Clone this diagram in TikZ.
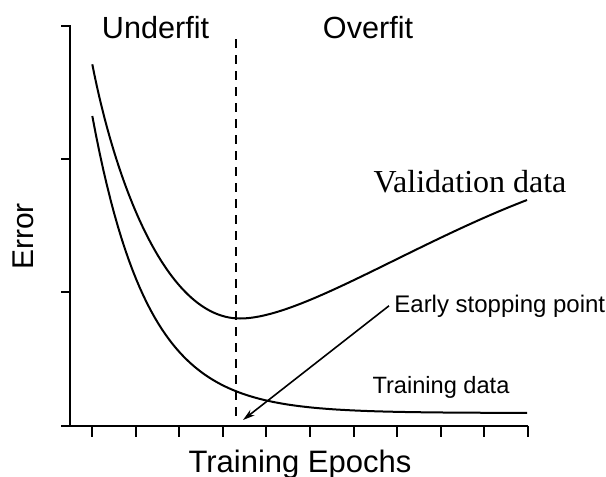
\documentclass[tikz,border=0pt]{standalone}
\usepackage{fontspec}
\setmainfont{Liberation Sans}
\newfontfamily\valfont{Liberation Serif}
\usetikzlibrary{arrows.meta}
\tikzstyle{lbl}=[inner sep=0pt,anchor=base]
\tikzstyle{curve}=[line width=1pt,line join=round]

\begin{document}
\begin{tikzpicture}[x=0.5pt,y=-0.5pt]
    \useasboundingbox (0,0) rectangle (606,477);
    % axes and ticks
    \draw[line width=1pt] (61,25.7) -- (70,25.7) -- (70,425.7);
    \draw[line width=1pt] (61,425.7) -- (528,425.7);
    \foreach \y in {159,292.3}
    \draw[line width=1pt] (61,\y) -- (70,\y);
    \foreach \i in {0,...,10}
    \draw[line width=1pt] (92+43.6*\i,425.7) -- ++(0,11.3);

    \node[lbl,font=\fontsize{15.3}{18}\selectfont] (under) at (155.5,38.5) {Underfit};
    \node[lbl,font=\fontsize{15.3}{18}\selectfont] (over) at (368,38.5) {Overfit};
    \node[lbl,font=\fontsize{15.5}{18}\selectfont] (xlab) at (300,472) {Training Epochs};
    \node[lbl,font=\fontsize{15}{18}\selectfont,rotate=90] (ylab) at (33.5,236.5) {Error};

    % stopping line
    \draw[line width=1pt,dash pattern=on 4.5pt off 3.5pt] (236,39) -- (236,420);

    % curves
    \draw[curve] (92.3,64.3) .. controls (115,180) and (165,318.5) .. (240,318.5)
        .. controls (300,318.5) and (410,245) .. (527,200);
    \draw[curve] plot[domain=92.3:527,samples=120] (\x,{413-297*exp(-(\x-92.3)/55)});

    \node[lbl,font=\fontsize{16}{19}\valfont] (val) at (470,192) {Validation data};
    \node[lbl,font=\fontsize{11.8}{14}\selectfont] (train) at (441,393) {Training data};
    \node[inner sep=2.5pt,anchor=base west,font=\fontsize{12}{14}\selectfont] (esp) at (389,312) {Early stopping point};

    \coordinate (stop) at (243,420);
    \draw[line width=0.8pt,-{Stealth[length=6pt,width=3.5pt]}] (esp.west) -- (stop);
\end{tikzpicture}
\end{document}
